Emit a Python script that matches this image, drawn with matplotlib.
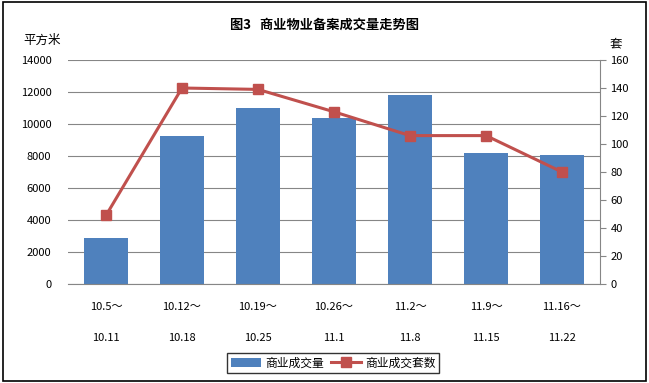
import matplotlib.pyplot as plt
from matplotlib.patches import Rectangle

plt.rcParams['font.family'] = ['Noto Sans CJK SC', 'DejaVu Sans']

weeks_start = ['10.5～', '10.12～', '10.19～', '10.26～', '11.2～', '11.9～', '11.16～']
weeks_end = ['10.11', '10.18', '10.25', '11.1', '11.8', '11.15', '11.22']
area = [2900, 9250, 11000, 10400, 11830, 8190, 8060]      # 商业成交量 (平方米)
units = [49, 140, 139, 123, 106, 106, 80]                  # 商业成交套数 (套)

bar_color = '#4F81BD'
line_color = '#C0504D'
grid_color = '#868686'

fig = plt.figure(figsize=(6.49, 3.83), dpi=100)
fig.patches.append(Rectangle((0.004, 0.006), 0.992, 0.988, transform=fig.transFigure,
                             fill=False, edgecolor='black', lw=1.2))

ax = fig.add_axes([68/649, 1 - 284/383, 532/649, 224/383])
x = range(len(area))
ax.bar(x, area, width=0.58, color=bar_color, label='商业成交量', zorder=2)
ax.set_xlim(-0.5, len(area) - 0.5)
ax.set_ylim(0, 14000)
ax.set_yticks(range(0, 14001, 2000))
ax.yaxis.grid(True, color=grid_color, lw=0.8, zorder=0)
ax.set_axisbelow(True)
ax.tick_params(axis='y', length=0, labelsize=8, pad=12)
ax.tick_params(axis='x', length=0, labelsize=8, pad=13)
ax.set_xticks(list(x))
ax.set_xticklabels([f'{a}\n\n{b}' for a, b in zip(weeks_start, weeks_end)],
                   linespacing=1.7)
for s in ['top', 'left', 'right']:
    ax.spines[s].set_visible(False)
ax.spines['bottom'].set_color(grid_color)

ax2 = ax.twinx()
ax2.plot(x, units, color=line_color, lw=2.2, marker='s', markersize=7,
         label='商业成交套数', zorder=3)
ax2.set_ylim(0, 160)
ax2.set_yticks(range(0, 161, 20))
ax2.tick_params(axis='y', direction='out', length=4, color=grid_color, labelsize=8)
for s in ['top', 'left', 'bottom']:
    ax2.spines[s].set_visible(False)
ax2.spines['right'].set_color(grid_color)

fig.text(0.5, 1 - 25/383, '图3   商业物业备案成交量走势图', ha='center', va='center',
         fontsize=9.5, fontweight='bold')
fig.text(42/649, 1 - 40/383, '平方米', ha='center', va='center', fontsize=9)
fig.text(616/649, 1 - 44/383, '套', ha='center', va='center', fontsize=9)

h1, l1 = ax.get_legend_handles_labels()
h2, l2 = ax2.get_legend_handles_labels()
fig.legend(h1 + h2, l1 + l2, loc='center', bbox_to_anchor=(333/649, 1 - 363/383),
           ncol=2, fontsize=8.5, frameon=True, fancybox=False, edgecolor='black',
           handlelength=2.6, handletextpad=0.3, columnspacing=0.6, borderpad=0.3)

fig.savefig('out.png', dpi=100)
